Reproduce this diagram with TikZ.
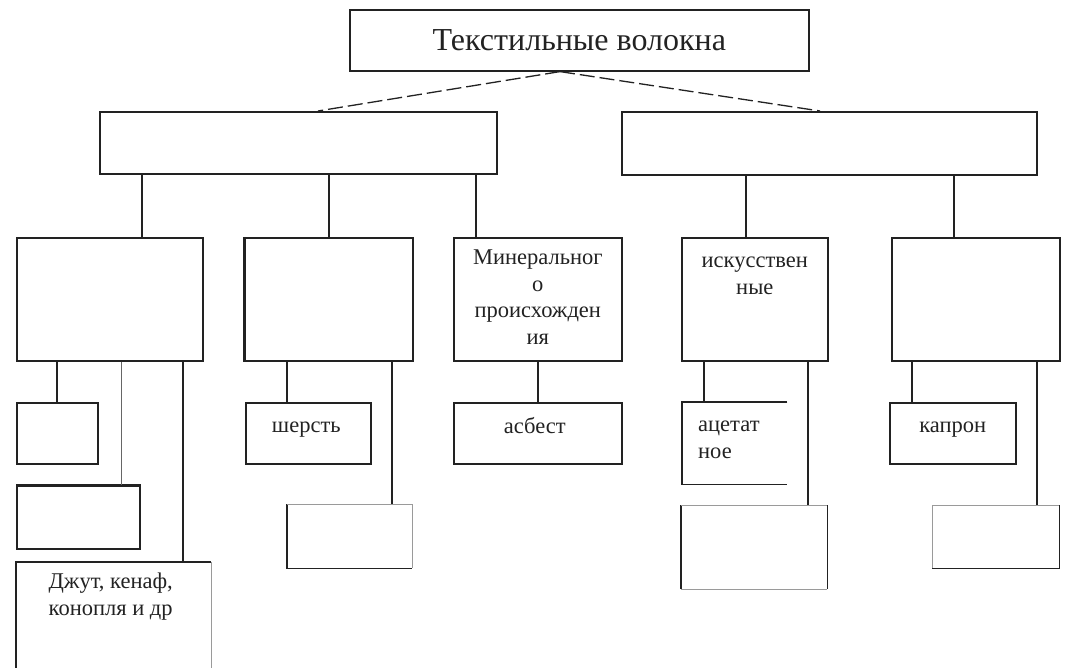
\documentclass[tikz,border=0pt]{standalone}
\usepackage{fontspec}
\setmainfont{Liberation Serif}
\usetikzlibrary{positioning}
\definecolor{ink}{HTML}{222222}
\definecolor{faint}{HTML}{9A9A9A}

\begin{document}
\begin{tikzpicture}[x=1pt,y=-1pt,
  box/.style={draw=ink,line width=1.6pt,anchor=north west,inner sep=0pt},
  open/.style={anchor=north west,inner sep=0pt},
  txt/.style={font=\fontsize{22.5}{26.5}\selectfont,align=center,inner sep=0pt,text=ink},
  link/.style={draw=ink,line width=1.6pt},
  lite/.style={draw=faint,line width=0.8pt}]
\useasboundingbox (0,0) rectangle (1065,668);
% levels 1 and 2
\node[box,minimum width=459pt,minimum height=61pt,font=\fontsize{32}{37}\selectfont,text=ink] (tex) at (349,9) {Текстильные волокна};
\node[box,minimum width=397pt,minimum height=62pt] (nat) at (99,111) {};
\node[box,minimum width=415pt,minimum height=63pt] (chem) at (621,111) {};
% level 3
\node[box,minimum width=186pt,minimum height=123pt] (plant) at (16,237) {};
\node[box,minimum width=168pt,minimum height=123pt] (animal) at (244,237) {};
\node[box,minimum width=168pt,minimum height=123pt] (mineral) at (453,237) {};
\node[box,minimum width=146pt,minimum height=123pt] (artif) at (681,237) {};
\node[box,minimum width=168pt,minimum height=123pt] (synth) at (891,237) {};
% level 4
\node[box,minimum width=81pt,minimum height=61pt] (cotton) at (16,402) {};
\node[box,minimum width=123pt,minimum height=63pt] (flax) at (16,485) {};
\node[open,minimum width=195pt,minimum height=113pt] (jute) at (16,562) {};
\node[box,minimum width=125pt,minimum height=61pt] (wool) at (245,402) {};
\node[open,minimum width=125pt,minimum height=64pt] (silk) at (287,504) {};
\node[box,minimum width=168pt,minimum height=61pt] (asb) at (453,402) {};
\node[open,minimum width=105pt,minimum height=82pt] (acet) at (682,402) {};
\node[open,minimum width=146pt,minimum height=84pt] (visc) at (681,505) {};
\node[box,minimum width=126pt,minimum height=61pt] (kapron) at (889,402) {};
\node[open,minimum width=127pt,minimum height=63pt] (lavsan) at (932,505) {};
% texts
\node[txt,below=13pt of mineral.north] (mineralt) {Минеральног\\о\\происхожден\\ия};
\node[txt,below=20pt of artif.north] (artift) {искусствен\\ные};
\node[txt,below=11pt of jute.north,xshift=-3pt] (jutet) {Джут, кенаф,\\конопля и др};
\node[txt,below=20pt of wool.north,xshift=-2pt] (woolt) {шерсть};
\node[txt,below=15pt of asb.north,xshift=-3pt] (asbt) {асбест};
\node[txt,below=20pt of kapron.north] (kapront) {капрон};
\node[txt,align=left,anchor=north west] (acett) at ([xshift=16pt,yshift=-19pt]acet.north west) {ацетат\\ное};
% open and uneven frames
\draw[link] (jute.south west) -- (jute.north west) -- (jute.north east);
\draw[lite] (jute.north east) -- (jute.south east);
\draw[link] (silk.north west) -- (silk.south west) -- (silk.south east);
\draw[lite] (silk.north west) -- (silk.north east) -- (silk.south east);
\draw[link] (acet.north east) -- (acet.north west) -- (acet.south west) -- (acet.south east);
\draw[link] (visc.north west) -- (visc.south west);
\draw[link] (visc.north east) -- (visc.south east);
\draw[lite] (visc.north west) -- (visc.north east);
\draw[lite] (visc.south west) -- (visc.south east);
\draw[link] (lavsan.north east) -- (lavsan.south east) -- (lavsan.south west);
\draw[lite] (lavsan.south west) -- (lavsan.north west) -- (lavsan.north east);
\draw[link,line width=3pt] (animal.north west) -- (animal.south west);
\draw[link,line width=3pt] (flax.north west) -- (flax.north east);
% connectors
\draw[link,line width=1.3pt,dash pattern=on 15pt off 5pt] (tex.south -| 560,0) -- (nat.north -| 318,0);
\draw[link,line width=1.3pt,dash pattern=on 15pt off 5pt] (tex.south -| 560,0) -- (chem.north -| 820,0);
\draw[link] (nat.south -| 142,0) -- (plant.north -| 142,0);
\draw[link] (nat.south -| 329,0) -- (animal.north -| 329,0);
\draw[link] (nat.south -| 476,0) -- (mineral.north -| 476,0);
\draw[link] (chem.south -| 746,0) -- (artif.north -| 746,0);
\draw[link] (chem.south -| 954,0) -- (synth.north -| 954,0);
\draw[link] (plant.south -| 57,0) -- (cotton.north -| 57,0);
\draw[link,line width=0.9pt,draw=black!60] (plant.south -| 121,0) -- (flax.north -| 121,0);
\draw[link] (plant.south -| 183,0) -- (jute.north -| 183,0);
\draw[link] (animal.south -| 287,0) -- (wool.north -| 287,0);
\draw[link] (animal.south -| 392,0) -- (silk.north -| 392,0);
\draw[link] (mineral.south -| 538,0) -- (asb.north -| 538,0);
\draw[link] (artif.south -| 704,0) -- (acet.north -| 704,0);
\draw[link] (artif.south -| 808,0) -- (visc.north -| 808,0);
\draw[link] (synth.south -| 912,0) -- (kapron.north -| 912,0);
\draw[link] (synth.south -| 1037,0) -- (lavsan.north -| 1037,0);
\end{tikzpicture}
\end{document}
